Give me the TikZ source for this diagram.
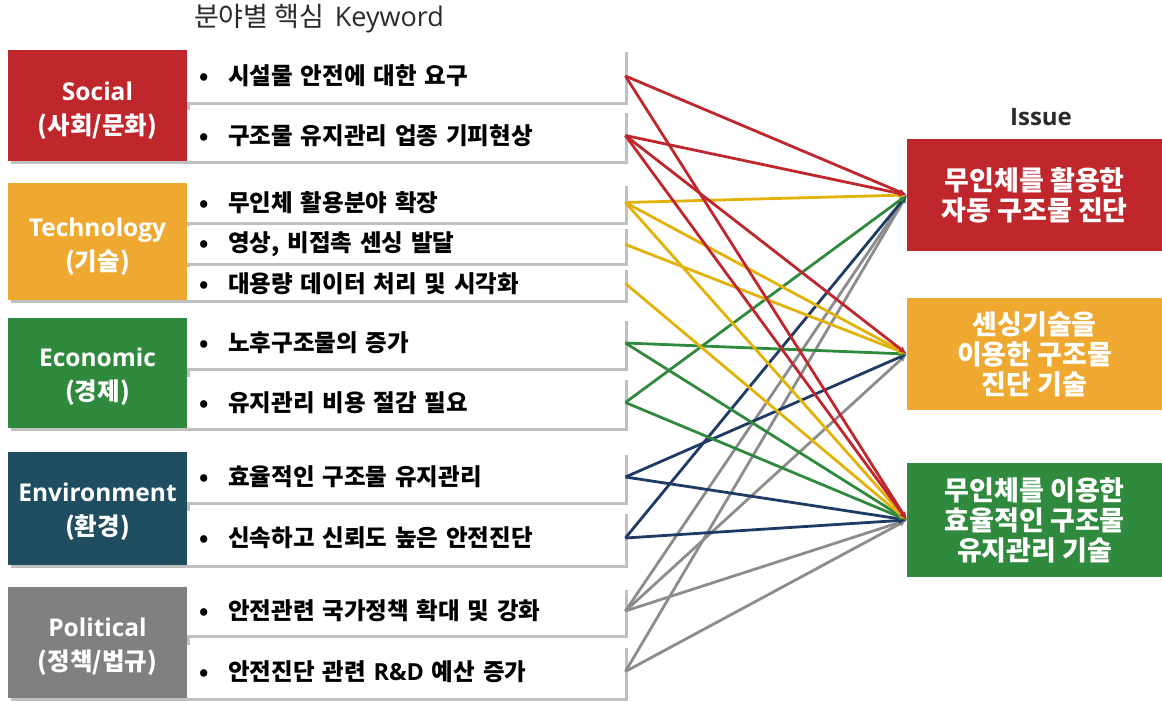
\documentclass[tikz,border=0pt]{standalone}
\usepackage{fontspec}
\setmainfont{Noto Sans CJK KR}
\newfontfamily\lat{Open Sans}
\usetikzlibrary{shadows,arrows.meta}
\definecolor{cRed}{HTML}{C0272D}
\definecolor{cYel}{HTML}{EFA830}
\definecolor{cGrn}{HTML}{2F8A3E}
\definecolor{cTeal}{HTML}{1F4E60}
\definecolor{cGray}{HTML}{808080}
\definecolor{lYel}{HTML}{E3B20A}
\definecolor{lBlue}{HTML}{1F3A64}
\definecolor{lGray}{HTML}{8C8C8C}
\definecolor{tDark}{HTML}{2A2A2A}
\newcommand{\bul}{\makebox[29pt][l]{•}}
\tikzset{
  shad/.style={drop shadow={shadow xshift=2.5pt, shadow yshift=-2.5pt, opacity=0.45, fill=black!55}},
  cat/.style={fill=#1, minimum width=179pt, inner sep=0pt, shad},
  cattext/.style={text=white, font=\bfseries\fontsize{24.5}{34}\selectfont, align=center, inner sep=0pt},
  kw/.style={fill=white, anchor=west, minimum width=438pt, text width=414pt, inner xsep=12pt,
    inner ysep=0pt, align=left, font=\bfseries\fontsize{23.5}{26}\selectfont, shad},
  iss/.style={fill=#1, text=white, anchor=west, minimum width=255pt, inner sep=0pt,
    font=\bfseries\fontsize{27}{30}\selectfont, align=center},
  conn/.style={line width=2.8pt, draw=#1, -{Latex[length=8pt,width=6.5pt]}},
}
\begin{document}
\begin{tikzpicture}[x=1pt,y=-1pt]
\useasboundingbox (0,0) rectangle (1162,701);
% titles
\node[font=\fontsize{27}{30}\selectfont, text=tDark] (title) at (319,19) {분야별 핵심 \,{\lat Keyword}};
\node[font=\bfseries\fontsize{24}{26}\selectfont, text=tDark] (issuet) at (1041,117) {{\lat Issue}};
% category boxes
\node[cat=cRed,  minimum height=111pt] (soc) at (97.5,105.5) {};
\node[cat=cYel,  minimum height=117pt] (tec) at (97.5,241.5) {};
\node[cat=cGrn,  minimum height=110pt] (eco) at (97.5,373) {};
\node[cat=cTeal, minimum height=113pt] (env) at (97.5,508.5) {};
\node[cat=cGray, minimum height=111pt] (pol) at (97.5,642.5) {};
\node[cattext] (socl) at (97.5,111) {{\lat Social}\\(사회/문화)};
\node[cattext] (tecl) at (97.5,247) {{\lat Technology}\\(기술)};
\node[cattext] (ecol) at (97.5,376.5) {{\lat Economic}\\(경제)};
\node[cattext] (envl) at (97.5,512) {{\lat Environment}\\(환경)};
\node[cattext] (poll) at (97.5,646.5) {{\lat Political}\\(정책/법규)};
% keyword boxes
\node[kw, minimum height=52pt] (s1) at (187,76) {\bul 시설물 안전에 대한 요구};
\node[kw, minimum height=51pt] (s2) at (187,135.5) {\bul 구조물 유지관리 업종 기피현상};
\node[kw, minimum height=39pt] (t1) at (187,202.5) {\bul 무인체 활용분야 확장};
\node[kw, minimum height=37pt] (t2) at (187,244.5) {\bul 영상, 비접촉 센싱 발달};
\node[kw, minimum height=33pt] (t3) at (187,283.5) {\bul 대용량 데이터 처리 및 시각화};
\node[kw, minimum height=50pt] (e1) at (187,343) {\bul 노후구조물의 증가};
\node[kw, minimum height=51pt] (e2) at (187,402.5) {\bul 유지관리 비용 절감 필요};
\node[kw, minimum height=50pt] (v1) at (187,477) {\bul 효율적인 구조물 유지관리};
\node[kw, minimum height=54pt] (v2) at (187,538) {\bul 신속하고 신뢰도 높은 안전진단};
\node[kw, minimum height=48pt] (p1) at (187,611) {\bul 안전관련 국가정책 확대 및 강화};
\node[kw, minimum height=53pt] (p2) at (187,671.5) {\bul 안전진단 관련 {\lat R\&D} 예산 증가};
% issue boxes
\node[iss=cRed, minimum height=112pt] (i1) at (907,195) {무인체를 활용한\\자동 구조물 진단};
\node[iss=cYel, minimum height=112pt] (i2) at (907,354) {센싱기술을\\이용한 구조물\\진단 기술};
\node[iss=cGrn, minimum height=114pt] (i3) at (907,520) {무인체를 이용한\\효율적인 구조물\\유지관리 기술};
% connectors
\draw[conn=lGray] (p1.east) -- (i1.west);
\draw[conn=lGray] (p1.east) -- (i2.west);
\draw[conn=lGray] (p1.east) -- (i3.west);
\draw[conn=lGray] (p2.east) -- (i1.west);
\draw[conn=lGray] (p2.east) -- (i3.west);
\draw[conn=lBlue] (v1.east) -- (i2.west);
\draw[conn=lBlue] (v1.east) -- (i3.west);
\draw[conn=lBlue] (v2.east) -- (i1.west);
\draw[conn=lBlue] (v2.east) -- (i3.west);
\draw[conn=cGrn] (e1.east) -- (i2.west);
\draw[conn=cGrn] (e1.east) -- (i3.west);
\draw[conn=cGrn] (e2.east) -- (i1.west);
\draw[conn=cGrn] (e2.east) -- (i3.west);
\draw[conn=lYel] (t1.east) -- (i1.west);
\draw[conn=lYel] (t1.east) -- (i2.west);
\draw[conn=lYel] (t1.east) -- (i3.west);
\draw[conn=lYel] (t2.east) -- (i2.west);
\draw[conn=lYel] (t3.east) -- (i3.west);
\draw[conn=cRed] (s1.east) -- (i1.west);
\draw[conn=cRed] (s1.east) -- (i3.west);
\draw[conn=cRed] (s2.east) -- (i1.west);
\draw[conn=cRed] (s2.east) -- (i2.west);
\draw[conn=cRed] (s2.east) -- (i3.west);
\end{tikzpicture}
\end{document}
